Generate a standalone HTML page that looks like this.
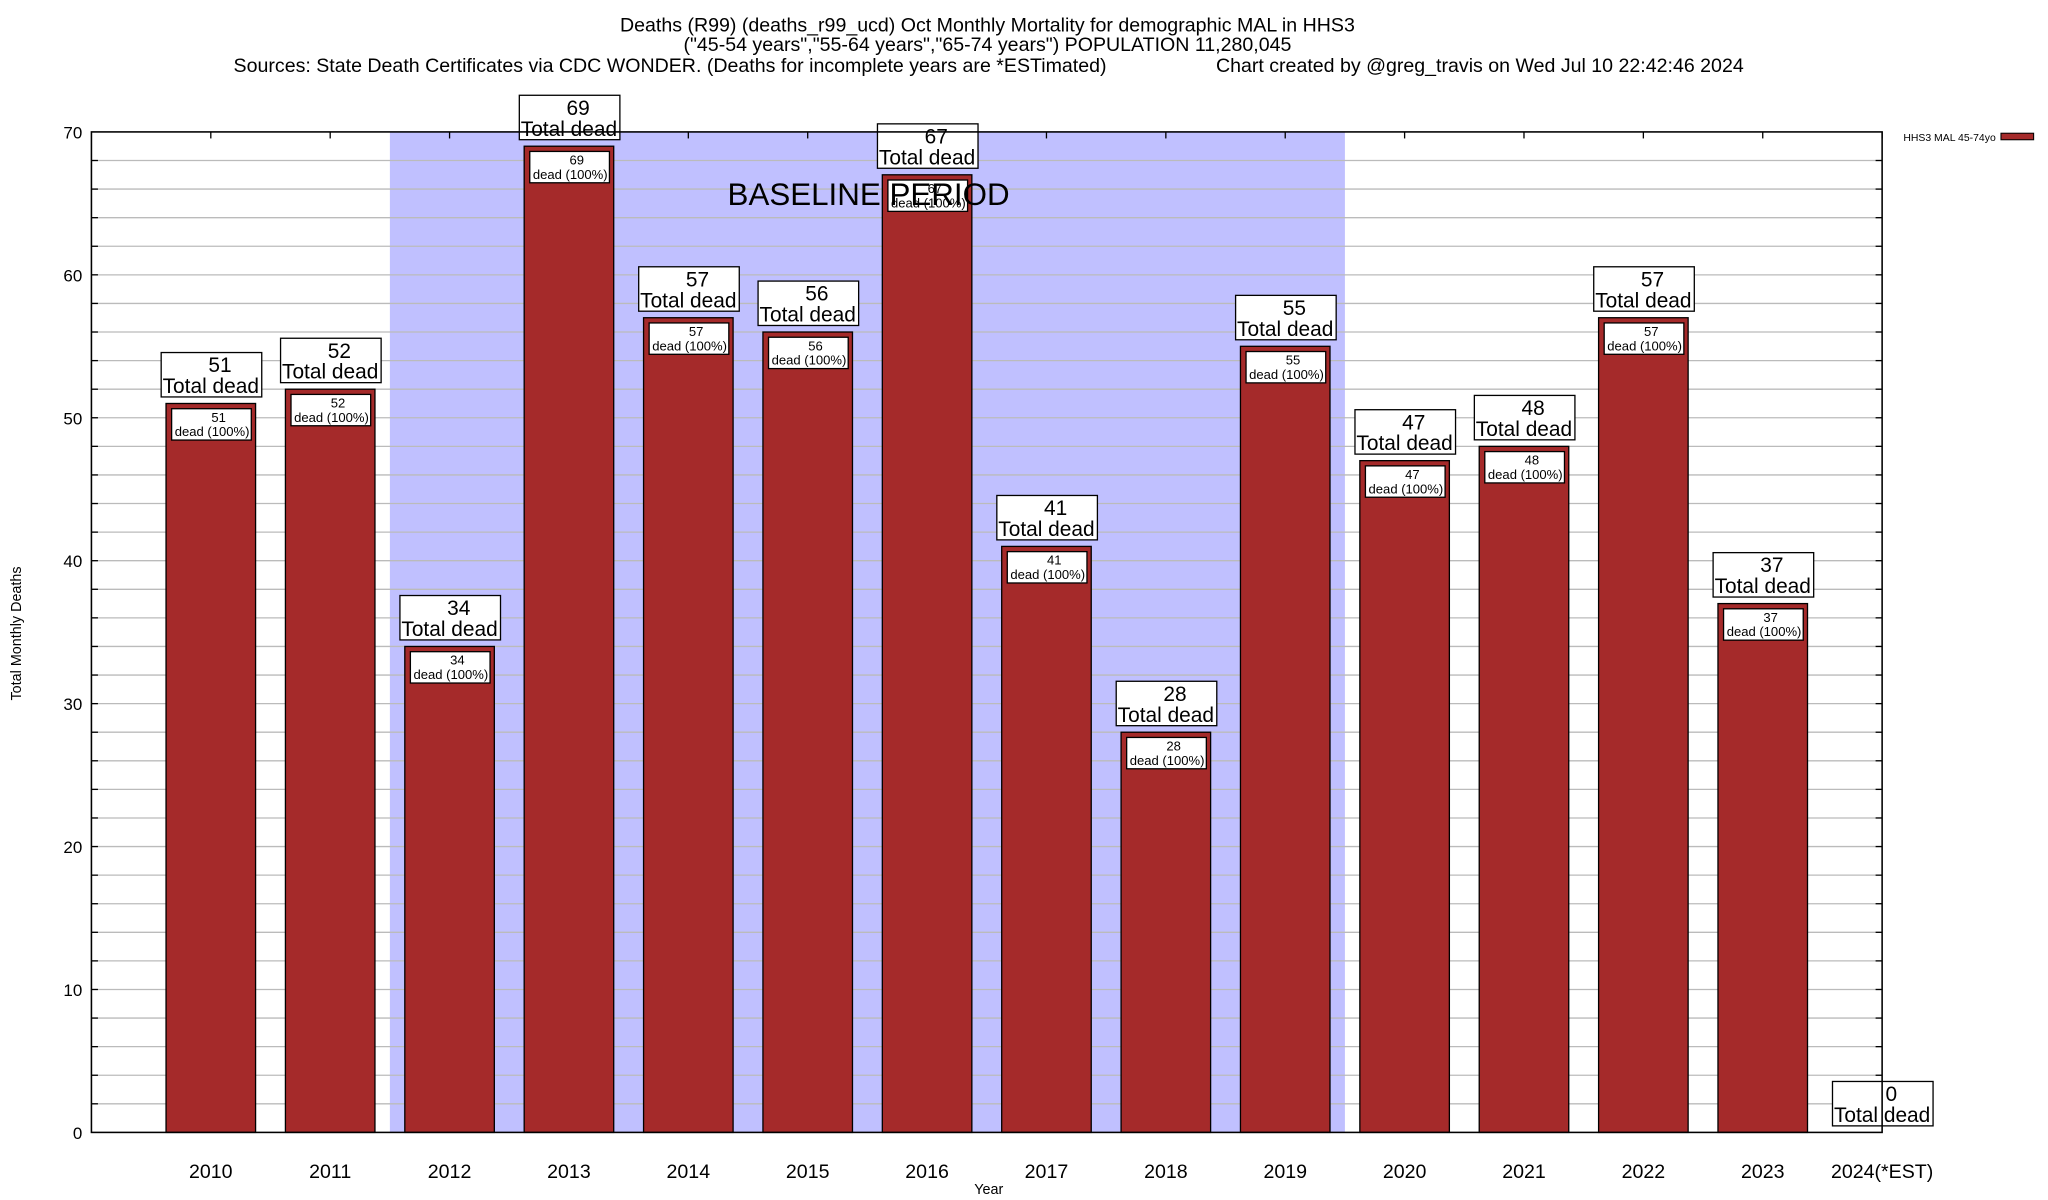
<!DOCTYPE html>
<html><head><meta charset="utf-8"><style>
html,body{margin:0;padding:0;background:#fff;}
svg{display:block;font-family:"Liberation Sans",Arial,sans-serif;}
</style></head><body>
<svg id="chart" width="2048" height="1200" viewBox="0 0 1568 918.75" preserveAspectRatio="none" xmlns="http://www.w3.org/2000/svg">
<g font-size="15" text-anchor="middle" fill="#000">
<text x="756" y="24">Deaths (R99) (deaths_r99_ucd) Oct Monthly Mortality for demographic MAL in HHS3</text>
<text x="756" y="39">("45-54 years","55-64 years","65-74 years") POPULATION 11,280,045</text>
<text x="513" y="55">Sources: State Death Certificates via CDC WONDER. (Deaths for incomplete years are *ESTimated)</text>
<text x="1133" y="55">Chart created by @greg_travis on Wed Jul 10 22:42:46 2024</text>
</g>
<g id="plot"></g>
<text x="16" y="485" font-size="11" text-anchor="middle" transform="rotate(-90 16 485)">Total Monthly Deaths</text>
<text x="757" y="914" font-size="11" text-anchor="middle">Year</text>
<g>
<text x="1528" y="108" font-size="8" text-anchor="end">HHS3 MAL 45-74yo</text>
<rect x="1532" y="102" width="25" height="5" fill="#a52a2a" stroke="#000" stroke-width="0.8"/>
</g>
</svg>
<script>
const categories = ['2010','2011','2012','2013','2014','2015','2016','2017','2018','2019','2020','2021','2022','2023','2024(*EST)'];
const values = [51,52,34,69,57,56,67,41,28,55,47,48,57,37,0];
const yTicks = [0,10,20,30,40,50,60,70];
const baselineStart = 2012, baselineEnd = 2019;

const NS='http://www.w3.org/2000/svg';
const L=70,R=1441,T=101,B=867;
function xs(i){return L+(i+1)*((R-L)/15);}
function ys(v){return B-(v/70)*(B-T);}
const plot=document.getElementById('plot');
function el(tag,attrs,parent){const e=document.createElementNS(NS,tag);for(const k in attrs)e.setAttribute(k,attrs[k]);(parent||plot).appendChild(e);return e;}
const sp=(R-L)/15;
const bi0=categories.indexOf(String(baselineStart)), bi1=categories.indexOf(String(baselineEnd));
const shade=el('rect',{x:xs(bi0)-sp/2,y:T,width:(bi1-bi0+1)*sp,height:B-T,fill:'#c0c0ff'});


for(let v=2;v<70;v+=2){
  const g=el('line',{x1:L,x2:R,y1:ys(v),y2:ys(v),stroke:'#bbb','stroke-width':1});
  
  
  el('line',{x1:L,x2:L+5,y1:ys(v),y2:ys(v),stroke:'#000','stroke-width':1});
  el('line',{x1:R-5,x2:R,y1:ys(v),y2:ys(v),stroke:'#000','stroke-width':1});
}
yTicks.forEach(v=>{
  const t=el('text',{x:L-7,y:ys(v)+5,'font-size':13,'text-anchor':'end'});
  t.textContent=v;
  
  
});
const bw=sp*0.75;
categories.forEach((c,i)=>{
  const cx=xs(i), v=values[i], top=ys(v);
  el('line',{x1:cx,x2:cx,y1:T,y2:T+5,stroke:'#000','stroke-width':1});
  if(v>0){
    const b=el('rect',{x:cx-bw/2,y:top,width:bw,height:B-top,fill:'#a52a2a',stroke:'#000','stroke-width':1});
    
    
    const ib=el('rect',{x:cx-30,y:top+4,width:61,height:24,fill:'#fff',stroke:'#000','stroke-width':1});
    
    
    const t1=el('text',{x:cx+6,y:top+14,'font-size':10,'text-anchor':'middle'});t1.textContent=v;
    const t2=el('text',{x:cx+1,y:top+25,'font-size':10,'text-anchor':'middle'});t2.textContent='dead (100%)';
  }
  const bb=top-5;
  const ob=el('rect',{x:cx-38,y:bb-34,width:77,height:34,fill:'#fff',stroke:'#000','stroke-width':1});
  
  
  const o1=el('text',{x:cx+7,y:bb-19,'font-size':16,'text-anchor':'middle'});o1.textContent=v;
  const o2=el('text',{x:cx,y:bb-3,'font-size':16,'text-anchor':'middle'});o2.textContent='Total dead';
  const xl=el('text',{x:cx,y:902,'font-size':15,'text-anchor':'middle'});
  xl.textContent=c;
  
  
});
const bt=el('text',{x:665,y:157,'font-size':24,'text-anchor':'middle'});
bt.textContent='BASELINE PERIOD';


const fr=el('rect',{x:L,y:T,width:R-L,height:B-T,fill:'none',stroke:'#000','stroke-width':1.2});


</script>
</body></html>
